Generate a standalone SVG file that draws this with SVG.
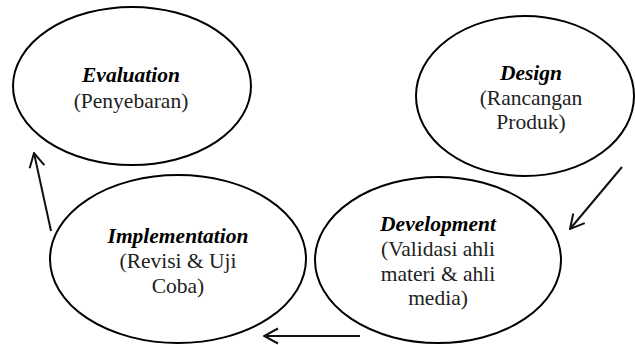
<svg xmlns="http://www.w3.org/2000/svg" width="635" height="345" viewBox="0 0 635 345">
<style>
.node ellipse{fill:#fff;stroke:#000;stroke-width:2}
text{font-family:"Liberation Serif","Times New Roman",serif;font-size:21.5px;fill:#222;text-anchor:middle}
.t{font-weight:bold;font-style:italic;fill:#000}
.conn line{stroke:#111;stroke-width:2;fill:none}
</style>
<defs>
<marker id="arr" viewBox="0 0 16 18" refX="15" refY="9" markerWidth="16" markerHeight="18" markerUnits="userSpaceOnUse" orient="auto">
<path d="M1,1.5 L15,9 L1,16.5" fill="none" stroke="#111" stroke-width="2"/>
</marker>
</defs>
<rect width="635" height="345" fill="#fff"/>
<g id="evaluation" class="node">
<ellipse cx="132" cy="86" rx="119" ry="79"/>
<text x="131" y="82" class="t">Evaluation</text>
<text x="131" y="108">(Penyebaran)</text>
</g>
<g id="design" class="node">
<ellipse cx="525" cy="96" rx="109" ry="80"/>
<text x="531" y="80" class="t">Design</text>
<text x="531" y="105">(Rancangan</text>
<text x="531" y="129">Produk)</text>
</g>
<g id="implementation" class="node">
<ellipse cx="178" cy="259" rx="128" ry="84"/>
<text x="178" y="243" class="t">Implementation</text>
<text x="178" y="268">(Revisi &amp; Uji</text>
<text x="178" y="293">Coba)</text>
</g>
<g id="development" class="node">
<ellipse cx="438" cy="260" rx="123" ry="83"/>
<text x="438" y="231" class="t">Development</text>
<text x="438" y="256">(Validasi ahli</text>
<text x="438" y="281">materi &amp; ahli</text>
<text x="438" y="305">media)</text>
</g>
<g id="connectors" class="conn">
<line x1="51" y1="231" x2="34" y2="153" marker-end="url(#arr)"/>
<line x1="622" y1="167" x2="570" y2="229" marker-end="url(#arr)"/>
<line x1="360" y1="336" x2="264" y2="336" marker-end="url(#arr)"/>
</g>
</svg>
